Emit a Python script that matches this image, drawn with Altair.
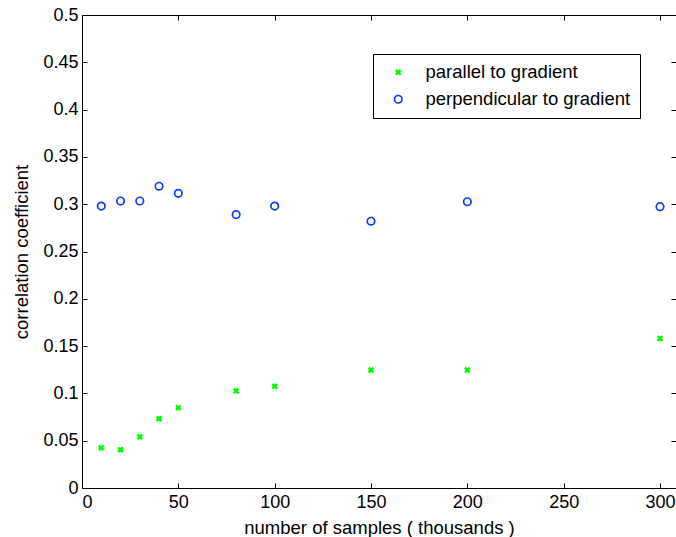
import altair as alt
import pandas as pd

# ---- data ----
samples = [10, 20, 30, 40, 50, 80, 100, 150, 200, 300]
parallel = [0.0426, 0.0405, 0.0542, 0.0733, 0.0849, 0.1025, 0.1075, 0.1247, 0.1247, 0.158]
perpendicular = [0.298, 0.3034, 0.3034, 0.319, 0.3115, 0.289, 0.298, 0.282, 0.3026, 0.2974]
series_names = ["parallel to gradient", "perpendicular to gradient"]
x_ticks = [0, 50, 100, 150, 200, 250, 300]
y_ticks = [0, 0.05, 0.1, 0.15, 0.2, 0.25, 0.3, 0.35, 0.4, 0.45, 0.5]

rows = []
for s, v in zip(samples, parallel):
    rows.append({"samples": s, "value": v, "series": series_names[0]})
for s, v in zip(samples, perpendicular):
    rows.append({"samples": s, "value": v, "series": series_names[1]})
df = pd.DataFrame(rows)

W, H = 594, 473
XDOM = [0, 308.3]
YDOM = [0, 0.5]
FONT = "Liberation Sans"
XPATH = "M-1,-1L1,1M-1,1L1,-1"


def xs():
    return alt.Scale(domain=XDOM, nice=False, zero=False)


def ys():
    return alt.Scale(domain=YDOM, nice=False, zero=False)


common_axis = dict(grid=False, labelFont=FONT, titleFont=FONT, labelColor="black",
                   titleColor="black", domainColor="black", tickColor="black")

# main layer: data, labels, left/bottom spines
main = alt.Chart(df).mark_point(filled=False, opacity=1).encode(
    x=alt.X("samples:Q", scale=xs(), axis=alt.Axis(
        orient="bottom", values=x_ticks, format="d", ticks=False, domain=True,
        labelFontSize=18, labelPadding=5, title="number of samples ( thousands )",
        titleFontSize=18.5, titleFontWeight="normal", titlePadding=7, **common_axis)),
    y=alt.Y("value:Q", scale=ys(), axis=alt.Axis(
        orient="left", values=y_ticks, format="~g", ticks=False, domain=True,
        labelFontSize=18, labelPadding=4, title="correlation coefficient",
        titleFontSize=18.5, titleFontWeight="normal", titlePadding=11, **common_axis)),
    color=alt.Color("series:N", scale=alt.Scale(domain=series_names, range=["#00ff00", "#0a3cff"]),
                    legend=alt.Legend(title=None, orient="none", legendX=291, legendY=39,
                                      fillColor="white", strokeColor="black", padding=9,
                                      rowPadding=8, symbolOffset=7, labelOffset=18,
                                      labelLimit=400,
                                      labelFont=FONT, labelFontSize=18.5, labelColor="black")),
    shape=alt.Shape("series:N", scale=alt.Scale(domain=series_names, range=[XPATH, "circle"])),
    size=alt.Size("series:N", scale=alt.Scale(domain=series_names, range=[22, 56])),
    strokeWidth=alt.StrokeWidth("series:N", scale=alt.Scale(domain=series_names, range=[2.6, 1.7])),
)

# inward ticks bottom / left
ticks_bl = alt.Chart(df).mark_point(opacity=0).encode(
    x=alt.X("samples:Q", scale=xs(), axis=alt.Axis(
        orient="bottom", values=x_ticks, offset=-5, tickSize=5, labels=False, domain=False,
        title=None, **common_axis)),
    y=alt.Y("value:Q", scale=ys(), axis=alt.Axis(
        orient="left", values=y_ticks, offset=-5, tickSize=5, labels=False, domain=False,
        title=None, **common_axis)),
)

# inward ticks top / right
ticks_tr = alt.Chart(df).mark_point(opacity=0).encode(
    x=alt.X("samples:Q", scale=xs(), axis=alt.Axis(
        orient="top", values=x_ticks, offset=-5, tickSize=5, labels=False, domain=False,
        title=None, **common_axis)),
    y=alt.Y("value:Q", scale=ys(), axis=alt.Axis(
        orient="right", values=y_ticks, offset=-5, tickSize=5, labels=False, domain=False,
        title=None, **common_axis)),
)

# top spine
top_spine = alt.Chart(df).mark_point(opacity=0).encode(
    x=alt.X("samples:Q", scale=xs(), axis=alt.Axis(
        orient="top", values=x_ticks, ticks=False, labels=False, domain=True,
        title=None, **common_axis)),
    y=alt.Y("value:Q", scale=ys(), axis=None),
)

chart = alt.layer(ticks_bl, ticks_tr, top_spine, main).resolve_scale(
    x="independent", y="independent"
).resolve_axis(
    x="independent", y="independent"
).properties(
    width=W, height=H,
    autosize=alt.AutoSizeParams(type="none"),
    padding={"left": 82, "top": 15, "right": 0, "bottom": 49},
    background="white",
).configure_view(stroke=None)

chart.save("out.html", embed_options={"renderer": "svg", "actions": False})
